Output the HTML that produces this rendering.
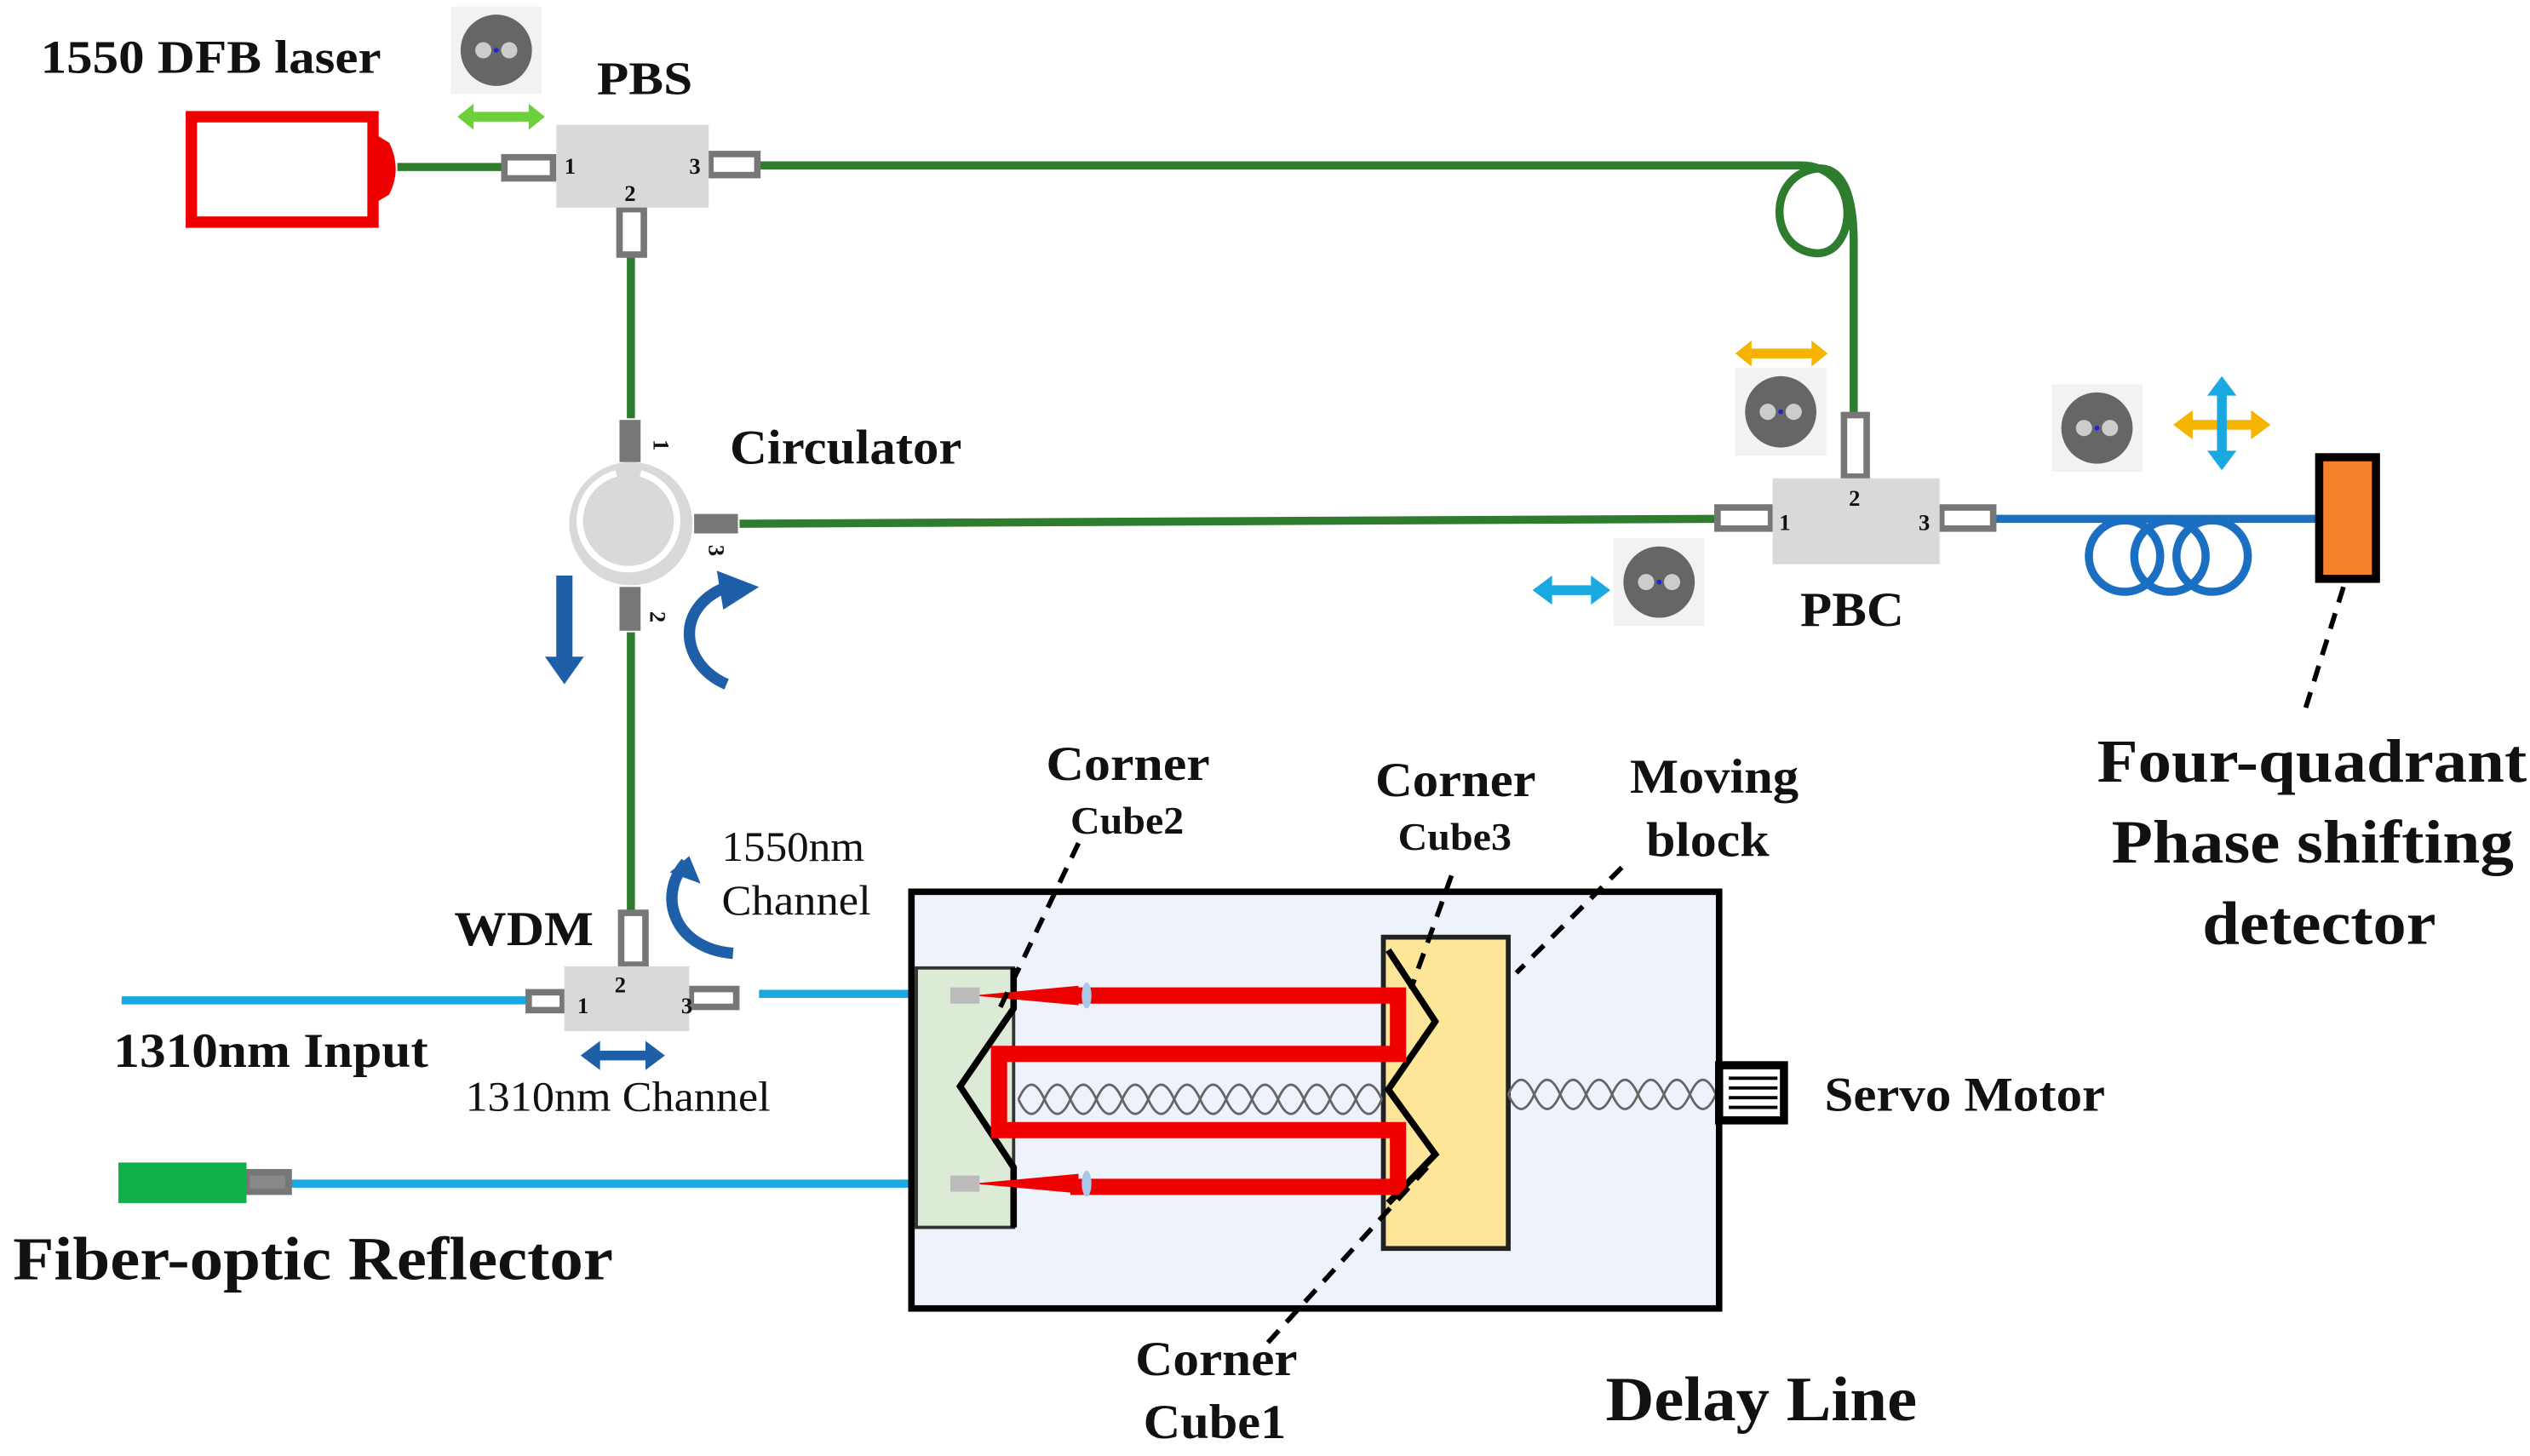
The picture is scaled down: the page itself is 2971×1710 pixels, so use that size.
<!DOCTYPE html>
<html><head><meta charset="utf-8"><style>
html,body{margin:0;padding:0;background:#fff;}
svg{display:block}
text{font-family:"Liberation Serif",serif;fill:#111}
.b{font-weight:bold}
</style></head><body>
<svg width="2971" height="1710" viewBox="0 0 1560 898" preserveAspectRatio="none" xmlns="http://www.w3.org/2000/svg">
<defs>
<g id="pol"><rect x="0" y="0" width="56" height="54" fill="#f2f2f2"/><circle cx="28" cy="27" r="22" fill="#666"/><circle cx="20" cy="27" r="5" fill="#ccc"/><circle cx="36" cy="27" r="5" fill="#ccc"/><circle cx="28" cy="27" r="1.5" fill="#22d"/></g>
</defs>
<g stroke="#2e7d2e" stroke-width="5" fill="none">
<line x1="245" y1="103" x2="310" y2="103"/>
<path d="M468,102 L1110,102 C1150,102 1145,160 1118,156 C1090,152 1090,108 1120,104 C1140,102 1143,130 1143,150 L1143,255"/>
<line x1="389" y1="158" x2="389" y2="258"/>
<line x1="456" y1="323" x2="1058" y2="320"/>
<line x1="389" y1="390" x2="389" y2="562"/>
</g>
<g stroke="#19a8e0" stroke-width="5" fill="none">
<line x1="75" y1="617" x2="325" y2="617"/>
<line x1="468" y1="613" x2="592" y2="613"/>
<line x1="178" y1="730" x2="592" y2="730"/>
</g>
<g stroke="#1b6fc2" stroke-width="5" fill="none">
<line x1="1230" y1="320" x2="1430" y2="320"/>
<circle cx="1310" cy="343" r="22"/><circle cx="1338" cy="343" r="22"/><circle cx="1364" cy="343" r="22"/>
</g>
<rect x="118" y="72" width="112" height="65" fill="none" stroke="#e00" stroke-width="7"/>
<path d="M230,82 L240,88 Q248,104 240,120 L230,126z" fill="#e00"/>
<text x="25" y="45" class="b" font-size="29" textLength="210" lengthAdjust="spacingAndGlyphs">1550 DFB laser</text>
<g fill="#fff" stroke="#777" stroke-width="4">
<rect x="311" y="97" width="30" height="13"/>
<rect x="438" y="95" width="29" height="13"/>
<rect x="382" y="129" width="15" height="28"/>
<rect x="1059" y="313" width="33" height="13"/>
<rect x="1137" y="256" width="14" height="38"/>
<rect x="1197" y="313" width="32" height="13"/>
<rect x="383" y="563" width="15" height="32"/>
<rect x="326" y="612" width="21" height="11"/>
<rect x="426" y="610" width="28" height="11"/>
<rect x="152" y="723" width="26" height="12" fill="#888"/>
</g>
<rect x="382" y="259" width="13" height="26" fill="#777"/>
<rect x="382" y="362" width="13" height="27" fill="#777"/>
<rect x="428" y="317" width="27" height="12" fill="#777"/>
<rect x="343" y="77" width="94" height="51" fill="#d9d9d9"/>
<text x="348" y="107" font-size="14" class="b">1</text><text x="385" y="124" font-size="14" class="b">2</text><text x="425" y="107" font-size="14" class="b">3</text>
<text x="368" y="58" class="b" font-size="29" textLength="59" lengthAdjust="spacingAndGlyphs">PBS</text>
<use href="#pol" x="278" y="4"/>
<path d="M282,72 L292,64 L292,69 L326,69 L326,64 L336,72 L326,80 L326,75 L292,75 L292,80z" fill="#6ccf3c"/>
<circle cx="389" cy="323" r="38" fill="#d9d9d9"/>
<path d="M380,292 A30,30 0 1 0 395,292" fill="none" stroke="#fff" stroke-width="4"/>
<text x="404" y="280" font-size="14" class="b" transform="rotate(90 408 275)">1</text>
<text x="438" y="345" font-size="14" class="b" transform="rotate(90 442 340)">3</text>
<text x="402" y="386" font-size="14" class="b" transform="rotate(90 406 381)">2</text>
<text x="450" y="286" class="b" font-size="30" textLength="143" lengthAdjust="spacingAndGlyphs">Circulator</text>
<path d="M343,355 L353,355 L353,405 L360,405 L348,422 L336,405 L343,405z" fill="#1f5fa8"/>
<path d="M448,422 C420,410 415,375 448,362" fill="none" stroke="#1f5fa8" stroke-width="7"/>
<path d="M442,352 L468,362 L446,376z" fill="#1f5fa8"/>
<rect x="1093" y="295" width="103" height="53" fill="#d9d9d9"/>
<text x="1097" y="327" font-size="14" class="b">1</text><text x="1140" y="312" font-size="14" class="b">2</text><text x="1183" y="327" font-size="14" class="b">3</text>
<text x="1110" y="386" class="b" font-size="30" textLength="64" lengthAdjust="spacingAndGlyphs">PBC</text>
<use href="#pol" x="1070" y="227"/>
<path d="M1070,218 L1080,210 L1080,215 L1117,215 L1117,210 L1127,218 L1117,226 L1117,221 L1080,221 L1080,226z" fill="#f5b400"/>
<use href="#pol" x="1265" y="237"/>
<path d="M1340,262 L1352,253 L1352,259 L1388,259 L1388,253 L1400,262 L1388,271 L1388,265 L1352,265 L1352,271z" fill="#f5b400"/>
<path d="M1370,232 L1379,244 L1373,244 L1373,278 L1379,278 L1370,290 L1361,278 L1367,278 L1367,244 L1361,244z" fill="#19a8e0"/>
<use href="#pol" x="995" y="332"/>
<path d="M945,364 L957,355 L957,361 L981,361 L981,355 L993,364 L981,373 L981,367 L957,367 L957,373z" fill="#19a8e0"/>
<rect x="1430" y="282" width="35" height="75" fill="#f57f2a" stroke="#000" stroke-width="5"/>
<line x1="1445" y1="362" x2="1420" y2="442" stroke="#000" stroke-width="3" stroke-dasharray="10,7"/>
<text x="1293" y="482" class="b" font-size="38" textLength="265" lengthAdjust="spacingAndGlyphs">Four-quadrant</text>
<text x="1302" y="532" class="b" font-size="38" textLength="248" lengthAdjust="spacingAndGlyphs">Phase shifting</text>
<text x="1358" y="582" class="b" font-size="38" textLength="144" lengthAdjust="spacingAndGlyphs">detector</text>
<rect x="348" y="596" width="77" height="40" fill="#d9d9d9"/>
<text x="356" y="625" font-size="14" class="b">1</text><text x="379" y="612" font-size="14" class="b">2</text><text x="420" y="625" font-size="14" class="b">3</text>
<text x="280" y="583" class="b" font-size="30" textLength="86" lengthAdjust="spacingAndGlyphs">WDM</text>
<path d="M452,588 C415,585 405,552 423,532" fill="none" stroke="#1f5fa8" stroke-width="7"/>
<path d="M413,538 L425,528 L432,545z" fill="#1f5fa8"/>
<text x="445" y="531" font-size="26" textLength="88" lengthAdjust="spacingAndGlyphs">1550nm</text>
<text x="445" y="564" font-size="26" textLength="92" lengthAdjust="spacingAndGlyphs">Channel</text>
<path d="M358,651 L370,642 L370,648 L398,648 L398,642 L410,651 L398,660 L398,654 L370,654 L370,660z" fill="#1f5fa8"/>
<text x="287" y="685" font-size="26" textLength="188" lengthAdjust="spacingAndGlyphs">1310nm Channel</text>
<text x="70" y="658" class="b" font-size="30" textLength="194" lengthAdjust="spacingAndGlyphs">1310nm Input</text>
<rect x="73" y="717" width="79" height="25" fill="#12b04a"/>
<text x="8" y="789" class="b" font-size="38" textLength="370" lengthAdjust="spacingAndGlyphs">Fiber-optic Reflector</text>
<rect x="562" y="550" width="498" height="257" fill="#eef3fb" stroke="#000" stroke-width="4"/>
<rect x="565" y="597" width="60" height="160" fill="#dcebd6" stroke="#333" stroke-width="2"/>
<rect x="853" y="578" width="77" height="192" fill="#fde59a" stroke="#222" stroke-width="3"/>
<path d="M625,597 L625,622 L592,670 L625,720 L625,757" fill="none" stroke="#000" stroke-width="4"/>
<path d="M856,586 L885,630 L856,672 L885,712 L856,742" fill="none" stroke="#000" stroke-width="4"/>
<g fill="none" stroke="#666" stroke-width="1.5">
<path d="M628,678 q8,-18 16,0 t16,0 t16,0 t16,0 t16,0 t16,0 t16,0 t16,0 t16,0 t16,0 t16,0 t16,0 t16,0 t16,0"/>
<path d="M628,678 q8,18 16,0 t16,0 t16,0 t16,0 t16,0 t16,0 t16,0 t16,0 t16,0 t16,0 t16,0 t16,0 t16,0 t16,0"/>
<path d="M930,675 q8,-18 16,0 t16,0 t16,0 t16,0 t16,0 t16,0 t16,0 t16,0"/>
<path d="M930,675 q8,18 16,0 t16,0 t16,0 t16,0 t16,0 t16,0 t16,0 t16,0"/>
</g>
<path d="M660,614 L862,614 L862,650 L616,650 L616,697 L862,697 L862,732 L660,732" fill="none" stroke="#e00" stroke-width="10"/>
<path d="M600,614 L665,608 L665,620z" fill="#e00"/><path d="M600,730 L665,724 L665,736z" fill="#e00"/>
<rect x="586" y="609" width="18" height="10" fill="#bbb"/><rect x="586" y="725" width="18" height="10" fill="#bbb"/>
<ellipse cx="670" cy="614" rx="3" ry="8" fill="#aac8e8"/><ellipse cx="670" cy="730" rx="3" ry="8" fill="#aac8e8"/>
<rect x="1060" y="657" width="40" height="34" fill="#fff" stroke="#000" stroke-width="5"/>
<g stroke="#000" stroke-width="2"><line x1="1066" y1="665" x2="1096" y2="665"/><line x1="1066" y1="671" x2="1096" y2="671"/><line x1="1066" y1="677" x2="1096" y2="677"/><line x1="1066" y1="683" x2="1096" y2="683"/></g>
<text x="1125" y="685" class="b" font-size="30" textLength="173" lengthAdjust="spacingAndGlyphs">Servo Motor</text>
<g stroke="#000" stroke-width="3" stroke-dasharray="10,7">
<line x1="665" y1="520" x2="615" y2="625"/>
<line x1="895" y1="540" x2="870" y2="610"/>
<line x1="1000" y1="535" x2="935" y2="600"/>
<line x1="880" y1="720" x2="780" y2="830"/>
</g>
<text x="645" y="481" class="b" font-size="30" textLength="101" lengthAdjust="spacingAndGlyphs">Corner</text>
<text x="660" y="514" class="b" font-size="24" textLength="70" lengthAdjust="spacingAndGlyphs">Cube2</text>
<text x="848" y="491" class="b" font-size="30" textLength="99" lengthAdjust="spacingAndGlyphs">Corner</text>
<text x="862" y="524" class="b" font-size="24" textLength="70" lengthAdjust="spacingAndGlyphs">Cube3</text>
<text x="1005" y="489" class="b" font-size="30" textLength="104" lengthAdjust="spacingAndGlyphs">Moving</text>
<text x="1015" y="528" class="b" font-size="30" textLength="76" lengthAdjust="spacingAndGlyphs">block</text>
<text x="700" y="848" class="b" font-size="30" textLength="100" lengthAdjust="spacingAndGlyphs">Corner</text>
<text x="705" y="887" class="b" font-size="30" textLength="88" lengthAdjust="spacingAndGlyphs">Cube1</text>
<text x="990" y="876" class="b" font-size="39" textLength="192" lengthAdjust="spacingAndGlyphs">Delay Line</text>
</svg>
</body></html>
